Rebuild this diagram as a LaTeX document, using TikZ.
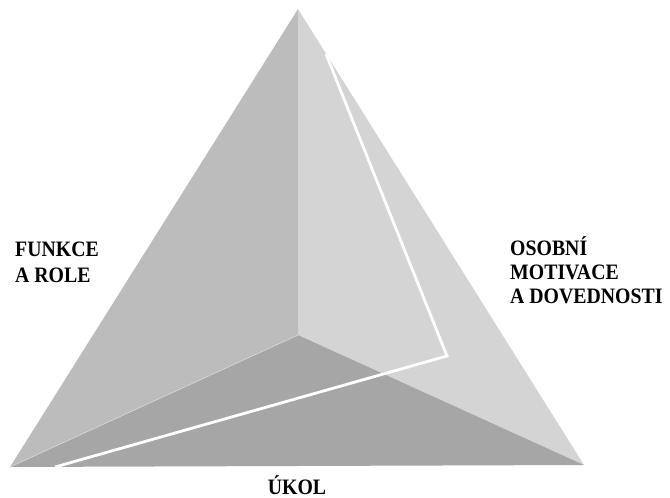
\documentclass[tikz,border=0pt]{standalone}
\usepackage{fontspec}
\setmainfont{Liberation Serif}
\newfontfamily\labelfont[FakeStretch=0.9]{Liberation Serif}
\definecolor{faceleft}{RGB}{188,188,188}
\definecolor{faceright}{RGB}{212,212,212}
\definecolor{facebottom}{RGB}{166,166,166}
\definecolor{seam}{RGB}{214,214,214}
\begin{document}
\begin{tikzpicture}[x=1pt,y=-1pt,
  face/.style={draw=none},
  label/.style={inner sep=0pt,font=\labelfont\bfseries\fontsize{22}{26}\selectfont},
  cut/.style={draw=white,line width=2.8pt,line join=miter}]
\useasboundingbox (0,0) rectangle (670,498);
% pyramid corners
\coordinate (apex) at (298,9);
\coordinate (bl) at (10,467);
\coordinate (br) at (584,465);
\coordinate (mid) at (298,335);
% white outline points
\coordinate (c1) at (326,54);
\coordinate (c2) at (447,356);
\coordinate (c3) at (55,467);
% faces
\fill[face,fill=faceleft] (apex) -- (bl) -- (mid) -- cycle;
\fill[face,fill=faceright] (apex) -- (mid) -- (br) -- cycle;
\fill[face,fill=facebottom] (bl) -- (mid) -- (br) -- cycle;
% light seam between left and bottom faces
\draw[seam,line width=0.7pt] (bl) -- (mid);
% white outline
\draw[cut] (c1) -- (c2) -- (c3);
% labels (base anchor sits on the last line)
\node[label,anchor=base west,align=left] (funkce) at (15,282) {FUNKCE\\A ROLE};
\node[label,anchor=base west,align=left,font=\labelfont\bfseries\fontsize{22}{24}\selectfont] (osobni) at (510,303) {OSOBNÍ\\MOTIVACE\\A DOVEDNOSTI};
\node[label,anchor=base,text depth=0pt] (ukol) at (297,494) {ÚKOL};
\end{tikzpicture}
\end{document}
